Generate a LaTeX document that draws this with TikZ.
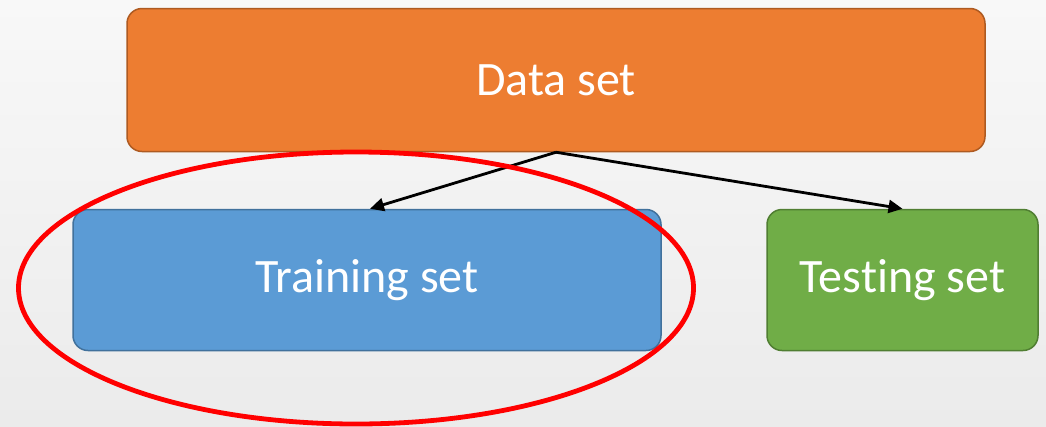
\documentclass[tikz,border=0pt]{standalone}
\usepackage{fontspec}
\setmainfont{Carlito}[Ligatures=NoCommon]
\usetikzlibrary{arrows.meta,shapes.geometric}
\definecolor{orangeF}{HTML}{ED7D31}
\definecolor{orangeD}{HTML}{AE5A21}
\definecolor{blueF}{HTML}{5B9BD5}
\definecolor{blueD}{HTML}{41719C}
\definecolor{greenF}{HTML}{70AD47}
\definecolor{greenD}{HTML}{507E32}
\definecolor{bgTop}{HTML}{F8F8F8}
\definecolor{bgBot}{HTML}{EBEBEB}
\tikzset{
  box/.style={rounded corners=15pt, line width=1.5pt, text=white, font=\fontsize{48}{56}\selectfont, inner sep=0pt},
  link/.style={line width=2.8pt, -{Triangle[length=14pt,width=13pt]}},
}
\begin{document}
\begin{tikzpicture}[x=1pt,y=-1pt]
\useasboundingbox (0,0) rectangle (1046,426);
\shade[top color=bgTop, bottom color=bgBot] (0,0) rectangle (1046,426);
\node[box, fill=orangeF, draw=orangeD, minimum width=858pt, minimum height=143pt] (data) at (556,80) {Data set};
\node[box, fill=blueF, draw=blueD, minimum width=588pt, minimum height=141pt] (train) at (367,280) {Training set};
\node[box, fill=greenF, draw=greenD, minimum width=271pt, minimum height=141pt] (test) at (902.5,280) {Testing set};
\coordinate (split) at (data.south);
\draw[link] (split) -- ([xshift=3pt]train.north);
\draw[link] (split) -- (test.north);
\node[draw=red, line width=4.8pt, ellipse, minimum width=675pt, minimum height=272pt, inner sep=0pt] (circ) at (356,288) {};
\end{tikzpicture}
\end{document}
